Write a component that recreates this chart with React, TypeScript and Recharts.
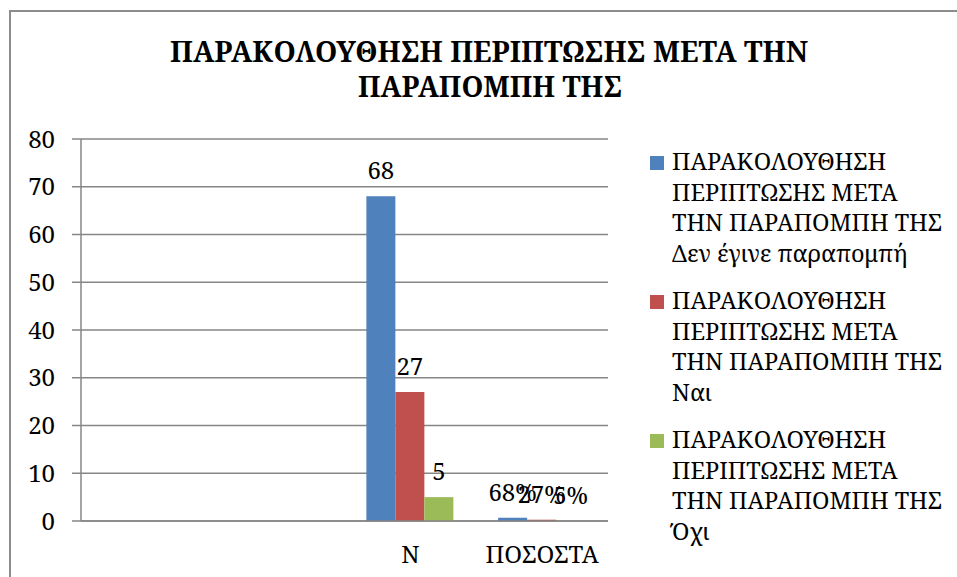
import { BarChart, Bar, XAxis, YAxis, CartesianGrid, LabelList } from 'recharts';

const categories = ['', '', 'N', 'ΠΟΣΟΣΤΑ'];
const seriesPrefix = 'ΠΑΡΑΚΟΛΟΥΘΗΣΗ ΠΕΡΙΠΤΩΣΗΣ ΜΕΤΑ ΤΗΝ ΠΑΡΑΠΟΜΠΗ ΤΗΣ';
const seriesSuffixes = ['Δεν έγινε παραπομπή', 'Ναι', 'Όχι'];
const seriesColors = ['#4F81BD', '#C0504D', '#9BBB59'];

const notReferred = [null, null, 68, 0.68];
const yes = [null, null, 27, 0.27];
const no = [null, null, 5, 0.05];
const notReferredLabels = [null, null, '68', '68%'];
const yesLabels = [null, null, '27', '27%'];
const noLabels = [null, null, '5', '5%'];

const yTicks = [0, 10, 20, 30, 40, 50, 60, 70, 80];
const titleLines = ['ΠΑΡΑΚΟΛΟΥΘΗΣΗ ΠΕΡΙΠΤΩΣΗΣ ΜΕΤΑ ΤΗΝ', 'ΠΑΡΑΠΟΜΠΗ ΤΗΣ'];

const series = [notReferred, yes, no];
const seriesLabels = [notReferredLabels, yesLabels, noLabels];

const data = categories.map((cat, i) => {
  const row: Record<string, string | number | null> = { idx: i, cat };
  series.forEach((s, k) => {
    row[`s${k}`] = s[i];
    row[`l${k}`] = seriesLabels[k][i];
  });
  return row;
});

const FONT = 'Noto Serif';
const GRID = '#868686';

function ChartLegend() {
  return (
    <div style={{ position: 'absolute', left: 650, top: 146, fontFamily: FONT, color: '#000' }}>
      {seriesSuffixes.map((suf, i) => (
        <div key={i} style={{ display: 'flex', alignItems: 'flex-start', marginBottom: 17 }}>
          <span
            style={{ width: 14, height: 14, background: seriesColors[i], marginTop: 10, marginRight: 8, flex: 'none' }}
          />
          <span style={{ width: 276, fontSize: 23.5, lineHeight: '30.5px' }}>{`${seriesPrefix} ${suf}`}</span>
        </div>
      ))}
    </div>
  );
}

export default function App() {
  return (
    <div
      style={{
        position: 'absolute', left: 0, top: 0, width: 957, height: 577,
        overflow: 'hidden', background: '#fff', fontFamily: FONT,
      }}
    >
      <div
        style={{
          position: 'absolute', left: 9, top: 10, width: 1000, height: 700,
          border: `2px solid #8c8c8c`, boxSizing: 'border-box',
        }}
      />
      <svg width={957} height={120} style={{ position: 'absolute', left: 0, top: 0 }}>
        <text x={489} y={61.7} textAnchor="middle" fontSize={29} fontWeight="bold" fontFamily={FONT}
          textLength={638} lengthAdjust="spacingAndGlyphs">{titleLines[0]}</text>
        <text x={490} y={97.3} textAnchor="middle" fontSize={29} fontWeight="bold" fontFamily={FONT}
          textLength={264} lengthAdjust="spacingAndGlyphs">{titleLines[1]}</text>
      </svg>
      <div style={{ position: 'absolute', left: 0, top: 0 }}>
        <BarChart
          width={957}
          height={577}
          data={data}
          margin={{ top: 139, right: 349, left: 11, bottom: 6 }}
          barCategoryGap="16.6%"
          barGap={0}
          style={{ fontFamily: FONT }}
        >
          <CartesianGrid vertical={false} stroke={GRID} strokeWidth={1.5} />
          <XAxis
            dataKey="idx"
            type="category"
            tickFormatter={(i: number) => categories[i]}
            tickLine={false}
            tickSize={0}
            tickMargin={25}
            height={50}
            axisLine={{ stroke: GRID, strokeWidth: 1.5 }}
            tick={{ fill: '#000', fontSize: 24, fontFamily: FONT }}
            interval={0}
          />
          <YAxis
            domain={[0, 80]}
            ticks={yTicks}
            width={70}
            tickSize={9}
            tickMargin={17}
            axisLine={{ stroke: GRID, strokeWidth: 1.5 }}
            tickLine={{ stroke: GRID, strokeWidth: 1.5 }}
            tick={{ fill: '#000', fontSize: 24, fontFamily: FONT }}
          />
          {seriesSuffixes.map((suf, k) => (
            <Bar
              key={k}
              dataKey={`s${k}`}
              name={`${seriesPrefix} ${suf}`}
              fill={seriesColors[k]}
              isAnimationActive={false}
            >
              <LabelList dataKey={`l${k}`} position="top" offset={17} fill="#000" fontSize={24} fontFamily={FONT} />
            </Bar>
          ))}
        </BarChart>
      </div>
      <ChartLegend />
    </div>
  );
}
